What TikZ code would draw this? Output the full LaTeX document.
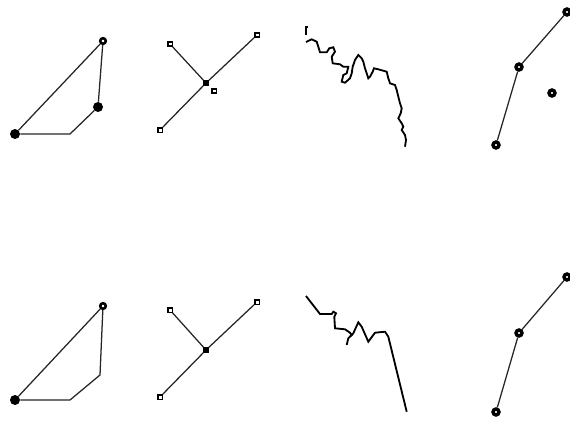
\documentclass[tikz,border=0pt]{standalone}
\usepackage{tikz}
\usetikzlibrary{positioning}

\begin{document}
\begin{tikzpicture}[x=0.025cm, y=-0.025cm,
    ring/.style={circle, draw, fill=white, line width=1.8pt, inner sep=0pt, minimum size=0.14cm},
    blob/.style={circle, fill=black, inner sep=0pt, minimum size=0.25cm},
    sqr/.style={rectangle, draw, fill=white, line width=1pt, inner sep=0pt, minimum size=0.11cm},
    hub/.style={rectangle, fill=black, inner sep=0pt, minimum size=0.13cm},
    flower/.style={circle, draw, fill=white, line width=2.4pt, inner sep=0pt, minimum size=0.15cm},
    link/.style={line width=0.9pt, black!85},
    wiggle/.style={line width=1.3pt, black, line join=miter}
]
    \useasboundingbox (0,0) rectangle (570,421);

    % top row
    \node[ring] (tri top)   at (103,41)  {};
    \node[blob] (tri mid)   at (98,107)  {};
    \node[blob] (tri left)  at (15,134)  {};
    \coordinate (tri corner) at (70,134);
    \draw[link] (tri left) -- (tri top);
    \draw[link] (tri top) -- (tri mid);
    \draw[link] (tri mid) -- (tri corner) -- (tri left);

    \node[sqr] (x nw)  at (170,44)  {};
    \node[sqr] (x ne)  at (257,35)  {};
    \node[sqr] (x sw)  at (160,130) {};
    \node[hub] (x hub) at (206,83)  {};
    \node[sqr] (x odd) at (214,91)  {};
    \draw[link] (x nw) -- (x hub);
    \draw[link] (x ne) -- (x hub) -- (x sw);

    \draw[wiggle] (308,27) -- (306,27) -- (306,35);
    \draw[wiggle] (306,42) -- (311.7,39.3) -- (316.7,41.7) -- (318.3,46.7) -- (320,52.3)
        -- (326.7,52.3) -- (329.3,48.3) -- (333.3,47.3) -- (335,51.7) -- (331.7,56.7)
        -- (332.7,63.3) -- (340,64.3) -- (343.3,66.7) -- (348.3,66.7) -- (346.7,73.3)
        -- (343.3,75) -- (341.7,81.7) -- (345,82.7) -- (350,78.3) -- (351.7,73.3)
        -- (352.7,66.7) -- (355,60) -- (358.3,55) -- (361.7,58.3) -- (363.3,61.7)
        -- (365,68.3) -- (366.7,73.3) -- (368.3,78.3) -- (370,76.7) -- (372.7,71.7)
        -- (374,68.3) -- (378.3,69.3) -- (386.7,71.7) -- (388.3,78.3) -- (390,83.3)
        -- (395,85) -- (396.7,90) -- (398.3,96.7) -- (400,103.3) -- (401.7,108.3)
        -- (400.7,113.3) -- (398.3,118.3) -- (401.7,123.3) -- (403.3,126.7) -- (401.7,130)
        -- (405,135) -- (406,140) -- (405,146.7);

    \node[flower] (arm top)  at (567,12)  {};
    \node[flower] (arm mid)  at (519,67)  {};
    \node[flower] (arm low)  at (496,145) {};
    \node[flower] (arm free) at (552,93)  {};
    \draw[link] (arm top) -- (arm mid) -- (arm low);

    % bottom row
    \node[ring] (tri top b)  at (103,306) {};
    \node[blob] (tri left b) at (15,400)  {};
    \coordinate (tri bend b)   at (100,375);
    \coordinate (tri corner b) at (70,400);
    \draw[link] (tri left b) -- (tri top b);
    \draw[link] (tri top b) -- (tri bend b) -- (tri corner b) -- (tri left b);

    \node[sqr] (x nw b)  at (170,310) {};
    \node[sqr] (x ne b)  at (257,302) {};
    \node[sqr] (x sw b)  at (160,397) {};
    \node[hub] (x hub b) at (206,350) {};
    \draw[link] (x nw b) -- (x hub b);
    \draw[link] (x ne b) -- (x hub b) -- (x sw b);

    \draw[wiggle] (306,296) -- (320,314) -- (331.7,314) -- (333.3,311.7) -- (336,313.3)
        -- (334.3,316.7) -- (335,328.3) -- (345,329.3) -- (350,332.7) -- (351.7,335)
        -- (348.3,338.3) -- (346.7,345);
    \draw[wiggle] (350,336.7) -- (353.3,333.3) -- (358.3,322.3) -- (361.7,326.7)
        -- (368.3,341.7) -- (375,332.7) -- (385,331.7) -- (388.3,336.7) -- (406.7,411.7);

    \node[flower] (arm top b) at (567,277) {};
    \node[flower] (arm mid b) at (519,333) {};
    \node[flower] (arm low b) at (496,412) {};
    \draw[link] (arm top b) -- (arm mid b) -- (arm low b);
\end{tikzpicture}
\end{document}
